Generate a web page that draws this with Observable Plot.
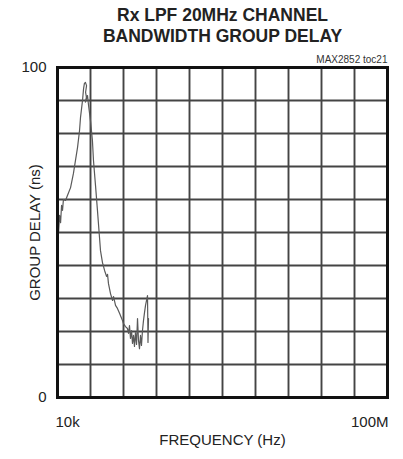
<!DOCTYPE html>
<html>
<head>
<meta charset="utf-8">
<script src="https://cdn.jsdelivr.net/npm/d3@7"></script>
<script src="https://cdn.jsdelivr.net/npm/@observablehq/plot@0.6"></script>
<style>
  html, body { margin: 0; padding: 0; background: #fff; }
  #chart svg { display: block; font-family: "Liberation Sans", Arial, sans-serif; }
</style>
</head>
<body>
<div id="chart"></div>
<script>
// Group delay trace: frequency (kHz) and delay (ns)
const freqKHz = [10.1, 10.3, 10.6, 10.9, 11.2, 11.5, 11.8, 12.5, 13.2, 14.4, 15.6, 16.5, 17.5, 18.5, 19.0, 20.1, 20.7, 21.2, 21.8, 22.5, 21.9, 22.4, 21.8, 23.1, 23.8, 25.1, 26.5, 27.3, 28.9, 30.5, 32.3, 33.2, 35.1, 37.2, 39.3, 40.4, 41.5, 43.9, 46.5, 47.8, 50.5, 53.3, 56.5, 58.1, 61.4, 63.1, 66.7, 70.5, 72.6, 74.6, 76.7, 78.9, 81.1, 83.4, 85.7, 88.1, 90.8, 93.3, 95.9, 98.6, 101.4, 104.2, 107.2, 110.2, 113.5, 116.7, 120.0, 123.3, 125.0, 126.8];
const delayNs = [52.1, 50.0, 55.2, 53.0, 58.2, 56.7, 60.0, 59.7, 61.2, 63.6, 67.9, 71.8, 75.8, 80.9, 84.8, 90.0, 93.6, 95.2, 95.5, 94.5, 92.5, 91.0, 89.5, 91.5, 88.5, 83.9, 77.9, 71.8, 64.2, 56.7, 48.5, 44.5, 40.9, 38.5, 36.7, 37.3, 34.5, 31.5, 29.4, 30.6, 27.9, 27.0, 25.5, 24.8, 23.3, 22.4, 21.5, 20.9, 19.4, 21.8, 17.9, 20.3, 16.4, 18.8, 15.5, 19.7, 16.1, 23.9, 17.3, 14.8, 18.8, 15.8, 20.3, 23.3, 25.8, 27.9, 29.4, 30.9, 16.7, 23.9];

// Axis / grid definitions
const xDomain = [1e4, 1e8];
const yDomain = [0, 100];
const yTicks = [0, 100];
const yTickLabels = ["0", "100"];
const xTickStart = [1e4];
const xTickEnd = [1e8];
const xTickLabels = {10000: "10k", 100000000: "100M"};
const yGrid = [10, 20, 30, 40, 50, 60, 70, 80, 90];
const xGrid = d3.range(1, 10).map(k => Math.pow(10, 4 + 0.4 * k));

const titleLines = ["Rx LPF 20MHz CHANNEL", "BANDWIDTH GROUP DELAY"];
const xLabel = "FREQUENCY (Hz)";
const yLabel = "GROUP DELAY (ns)";
const noteText = "MAX2852 toc21";

const trace = freqKHz.map((f, i) => ({f: f * 1000, d: delayNs[i]}));

const chart = Plot.plot({
  width: 403,
  height: 459,
  marginLeft: 57,
  marginRight: 16,
  marginTop: 67,
  marginBottom: 62,
  style: {fontFamily: "'Liberation Sans', Arial, sans-serif", color: "#222", background: "#fff"},
  x: {type: "log", domain: xDomain},
  y: {domain: yDomain},
  marks: [
    Plot.ruleX(xGrid, {stroke: "#444", strokeWidth: 1.9}),
    Plot.ruleY(yGrid, {stroke: "#444", strokeWidth: 1.9}),
    Plot.line(trace, {x: "f", y: "d", stroke: "#5a5a5a", strokeWidth: 1.2, curve: "linear"}),
    Plot.frame({stroke: "#111", strokeWidth: 3}),
    Plot.axisY(yTicks, {tickSize: 0, tickPadding: 11, fontSize: 15, tickFormat: d => yTickLabels[yTicks.indexOf(d)], label: null}),
    Plot.axisX(xTickStart, {tickSize: 0, tickPadding: 19, fontSize: 15, textAnchor: "start", dx: -2, tickFormat: d => xTickLabels[d], label: null}),
    Plot.axisX(xTickEnd, {tickSize: 0, tickPadding: 19, fontSize: 15, textAnchor: "end", dx: 1, tickFormat: d => xTickLabels[d], label: null}),
    Plot.text([xLabel], {frameAnchor: "bottom", textAnchor: "middle", dy: 47, fontSize: 15, fill: "#222"}),
    Plot.text([yLabel], {frameAnchor: "left", textAnchor: "middle", rotate: -90, dx: -22, fontSize: 15, fill: "#222"}),
    Plot.text([noteText], {frameAnchor: "top-right", textAnchor: "end", dy: -12, fontSize: 10, fill: "#333"}),
    Plot.text([titleLines[0]], {frameAnchor: "top", textAnchor: "middle", dy: -59, fontSize: 17.5, fontWeight: "bold", fill: "#222"}),
    Plot.text([titleLines[1]], {frameAnchor: "top", textAnchor: "middle", dy: -38, fontSize: 17.5, fontWeight: "bold", fill: "#222"})
  ]
});
document.getElementById("chart").append(chart);
</script>
</body>
</html>
